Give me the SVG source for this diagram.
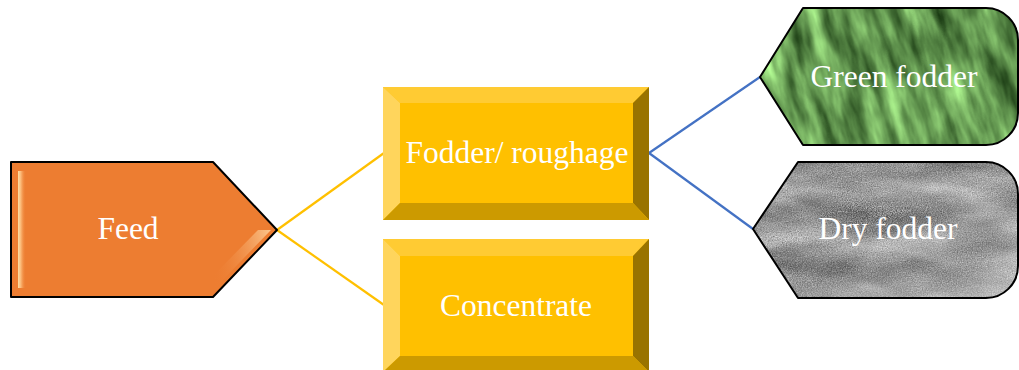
<svg xmlns="http://www.w3.org/2000/svg" width="1019" height="370" viewBox="0 0 1019 370">
  <style>
    .lbl { font-family: "Liberation Serif", "Times New Roman", serif; font-size: 31.5px; fill: #ffffff; text-anchor: middle; }
    .yl { stroke: #FFC000; stroke-width: 2.2; fill: none; }
    .bl { stroke: #4472C4; stroke-width: 2.2; fill: none; }
    .edge { fill: none; stroke: #000000; stroke-width: 2; stroke-linejoin: round; }
    .bt { fill: #FFCB33; }
    .bL { fill: #FFD55C; }
    .bR { fill: #997300; }
    .bB { fill: #CC9A00; }
    .bM { fill: #FFC000; }
  </style>
  <defs>
    <linearGradient id="feedLeft" x1="0" y1="0" x2="1" y2="0">
      <stop offset="0" stop-color="#FFE9B0" stop-opacity="0.9"/>
      <stop offset="0.35" stop-color="#FFC98A" stop-opacity="0.8"/>
      <stop offset="1" stop-color="#ED7D31" stop-opacity="0"/>
    </linearGradient>
    <linearGradient id="feedDiag" x1="1" y1="0" x2="0" y2="0.2">
      <stop offset="0" stop-color="#FFD9A6"/>
      <stop offset="1" stop-color="#ED7D31" stop-opacity="0"/>
    </linearGradient>
    <clipPath id="clipGreen">
      <path d="M760,77 L803,8 L986,8 A32,32 0 0 1 1018,40 L1018,113 A32,32 0 0 1 986,145 L803,145 Z"/>
    </clipPath>
    <clipPath id="clipDry">
      <path d="M753,229 L798,162 L986,162 A32,32 0 0 1 1018,194 L1018,266 A32,32 0 0 1 986,298 L798,298 Z"/>
    </clipPath>
    <filter id="grass" filterUnits="userSpaceOnUse" x="700" y="-60" width="380" height="280" color-interpolation-filters="sRGB">
      <feTurbulence type="fractalNoise" baseFrequency="0.05 0.012" numOctaves="4" seed="7" result="n"/>
      <feColorMatrix in="n" type="matrix" values="0.95 0 0 0 -0.08  1.2 0 0 0 0.0  0.8 0 0 0 -0.08  0 0 0 0 1"/>
    </filter>
    <filter id="hay" filterUnits="userSpaceOnUse" x="745" y="155" width="275" height="150" color-interpolation-filters="sRGB">
      <feTurbulence type="fractalNoise" baseFrequency="0.8" numOctaves="2" seed="2" result="g"/>
      <feTurbulence type="fractalNoise" baseFrequency="0.012 0.035" numOctaves="3" seed="5" result="s"/>
      <feComposite in="g" in2="s" operator="arithmetic" k1="0" k2="0.45" k3="0.5" k4="0" result="m"/>
      <feColorMatrix in="m" type="matrix" values="0.9 0 0 0 0.12  0.9 0 0 0 0.12  0.9 0 0 0 0.12  0 0 0 0 1"/>
    </filter>
    <linearGradient id="hayLight" x1="0" y1="0" x2="1" y2="1">
      <stop offset="0.55" stop-color="#ffffff" stop-opacity="0"/>
      <stop offset="0.9" stop-color="#ffffff" stop-opacity="0.3"/>
    </linearGradient>
  </defs>

  <g id="connectors">
    <line class="yl" x1="277" y1="230" x2="384" y2="153"/>
    <line class="yl" x1="277" y1="230" x2="384" y2="305"/>
    <line class="bl" x1="649" y1="153" x2="760" y2="77"/>
    <line class="bl" x1="649" y1="153" x2="753" y2="229"/>
  </g>

  <g id="feed">
    <polygon points="11,162 213,162 277,230 213,297 11,297" fill="#ED7D31"/>
    <rect x="18" y="171" width="8" height="117" fill="url(#feedLeft)"/>
    <polygon points="258,230 271,230 212,291 205,284" fill="url(#feedDiag)" opacity="0.8"/>
    <polygon class="edge" points="11,162 213,162 277,230 213,297 11,297"/>
    <text class="lbl" x="128" y="239">Feed</text>
  </g>

  <g id="fodder">
    <rect class="bM" x="383" y="87" width="266" height="133"/>
    <polygon class="bt" points="383,87 649,87 633,103 400,103"/>
    <polygon class="bL" points="383,87 400,103 400,203 383,220"/>
    <polygon class="bR" points="649,87 649,220 633,203 633,103"/>
    <polygon class="bB" points="383,220 400,203 633,203 649,220"/>
    <text class="lbl" x="517" y="163">Fodder/ roughage</text>
  </g>

  <g id="concentrate">
    <rect class="bM" x="383" y="239" width="266" height="133"/>
    <polygon class="bt" points="383,239 649,239 633,256 400,256"/>
    <polygon class="bL" points="383,239 400,256 400,356 383,372"/>
    <polygon class="bR" points="649,239 649,372 633,356 633,256"/>
    <polygon class="bB" points="383,372 400,356 633,356 649,372"/>
    <text class="lbl" x="516" y="316">Concentrate</text>
  </g>

  <g id="green-fodder">
    <g clip-path="url(#clipGreen)">
      <rect x="750" y="0" width="270" height="150" fill="#4E8A3A"/>
      <g transform="rotate(-15 890 77)">
        <rect x="720" y="-40" width="340" height="240" filter="url(#grass)"/>
      </g>
    </g>
    <path class="edge" d="M760,77 L803,8 L986,8 A32,32 0 0 1 1018,40 L1018,113 A32,32 0 0 1 986,145 L803,145 Z"/>
    <text class="lbl" x="894" y="87">Green fodder</text>
  </g>

  <g id="dry-fodder">
    <g clip-path="url(#clipDry)">
      <rect x="745" y="155" width="275" height="150" fill="#8E8E8C"/>
      <rect x="745" y="155" width="275" height="150" filter="url(#hay)"/>
      <rect x="745" y="155" width="275" height="150" fill="url(#hayLight)"/>
    </g>
    <path class="edge" d="M753,229 L798,162 L986,162 A32,32 0 0 1 1018,194 L1018,266 A32,32 0 0 1 986,298 L798,298 Z"/>
    <text class="lbl" x="888" y="239">Dry fodder</text>
  </g>
</svg>
